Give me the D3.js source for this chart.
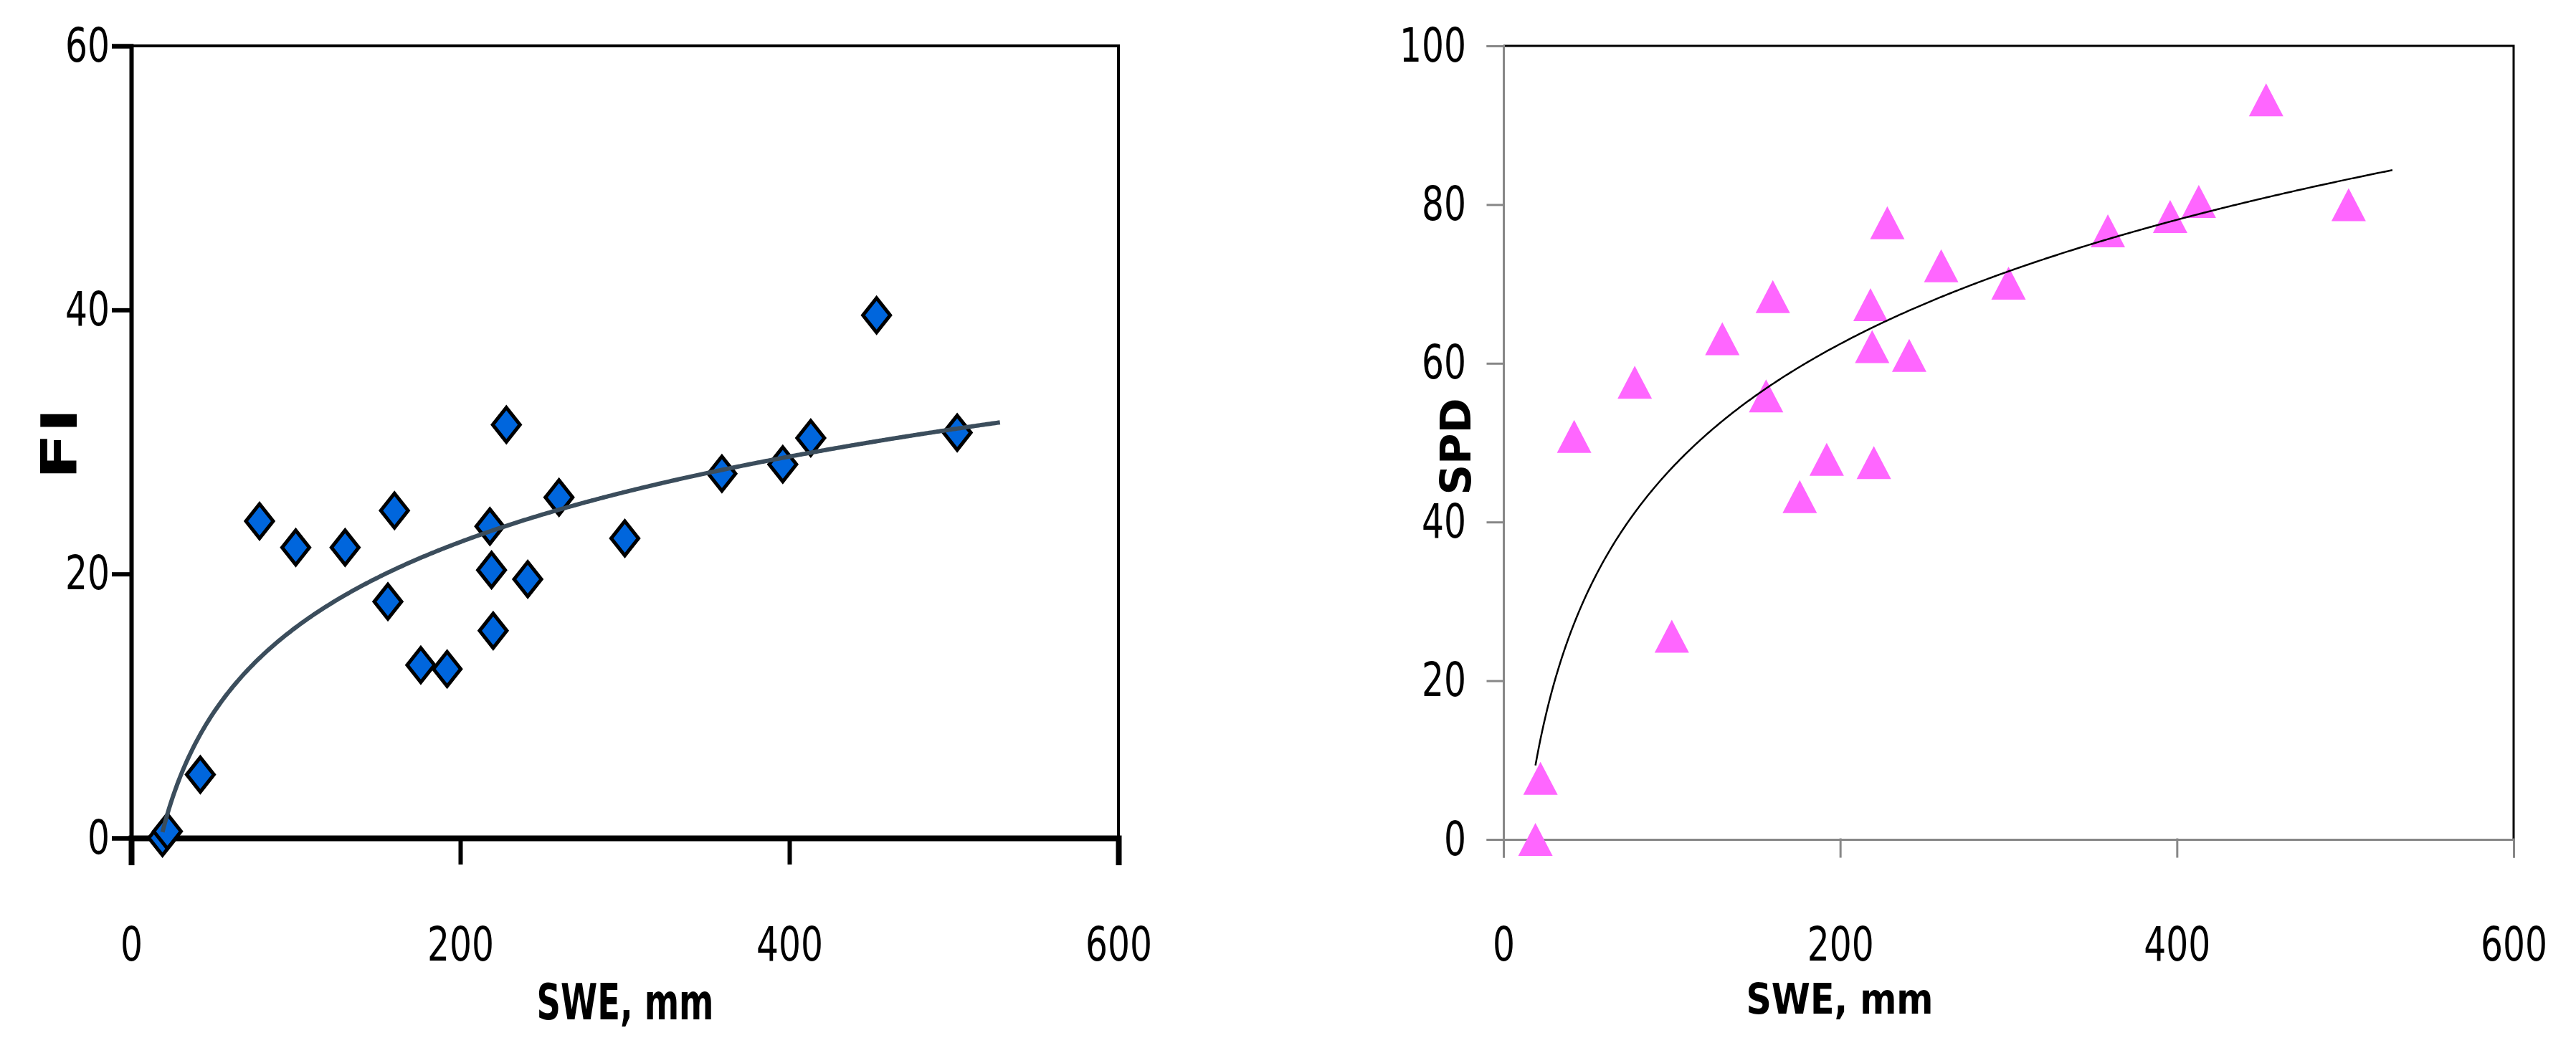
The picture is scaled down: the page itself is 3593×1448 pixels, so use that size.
<!DOCTYPE html>
<html>
<head>
<meta charset="utf-8">
<script src="https://cdn.jsdelivr.net/npm/d3@7"></script>
<style>
  body { margin: 0; background: #fff; }
  svg { display: block; }
</style>
</head>
<body>
<svg id="chart" width="3593" height="1448"></svg>
<script>
// 자료
const swe = [19, 22, 42, 78, 100, 130, 160, 156, 176, 192, 218, 228, 219, 220, 241, 260, 300, 359, 396, 413, 453, 502];
const fi  = [0, 0.5, 4.8, 24, 22, 22, 24.8, 17.9, 13.1, 12.8, 23.6, 31.3, 20.3, 15.7, 19.6, 25.8, 22.7, 27.6, 28.3, 30.3, 39.6, 30.7];
const spd = [0, 7.7, 50.8, 57.6, 25.6, 63.1, 68.4, 55.9, 43.2, 47.9, 67.4, 77.7, 62.1, 47.5, 61.0, 72.3, 70.1, 76.7, 78.5, 80.4, 93.2, 80.0];

const xTicks = [0, 200, 400, 600];
const fiTicks = [0, 20, 40, 60];
const spdTicks = [0, 20, 40, 60, 80, 100];
const trendForward = 26; // 추세선 앞으로 연장

const svg = d3.select('#chart');
const tickFont = '"DejaVu Sans Condensed", "DejaVu Sans", sans-serif';

// 로그 추세선 (최소제곱)
function logFit(xs, ys) {
    const lx = xs.map(Math.log);
    const mx = d3.mean(lx), my = d3.mean(ys);
    let sxy = 0, sxx = 0;
    lx.forEach((v, i) => { sxy += (v - mx) * (ys[i] - my); sxx += (v - mx) * (v - mx); });
    const a = sxy / sxx;
    return { a: a, b: my - a * mx };
}

function diamondPath(w, h) {
    return `M0,${-h / 2}L${w / 2},0L0,${h / 2}L${-w / 2},0Z`;
}
function trianglePath(w, h) {
    return `M0,${-h / 2}L${w / 2},${h / 2}L${-w / 2},${h / 2}Z`;
}

function styleTicks(sel, cfg) {
    sel.selectAll('.tick text')
        .attr('fill', '#000')
        .attr('textLength', d => String(d).length * cfg.digitW)
        .attr('lengthAdjust', 'spacingAndGlyphs')
        .style('font-family', tickFont)
        .style('font-size', cfg.tickFontSize + 'px');
}

function drawPanel(cfg) {
    const g = svg.append('g');
    const x = d3.scaleLinear().domain([0, 600]).range([cfg.left, cfg.right]);
    const y = d3.scaleLinear().domain([0, cfg.yMax]).range([cfg.bottom, cfg.top]);

    // 위, 오른쪽 테두리
    g.append('path')
        .attr('d', `M${cfg.left},${cfg.top}H${cfg.right}V${cfg.bottom}`)
        .attr('fill', 'none')
        .attr('stroke', '#000')
        .attr('stroke-width', cfg.frameWidth);

    // x축
    const xAxis = g.append('g')
        .attr('transform', `translate(0,${cfg.bottom})`)
        .call(d3.axisBottom(x).tickValues(xTicks).tickSizeOuter(0)
            .tickSize(cfg.xTickLen).tickPadding(cfg.xPad));
    xAxis.select('.domain').attr('stroke', cfg.axisColor).attr('stroke-width', cfg.xAxisWidth);
    xAxis.selectAll('.tick line').attr('stroke', cfg.axisColor).attr('stroke-width', cfg.tickWidth);
    styleTicks(xAxis, cfg);

    // y축
    const yAxis = g.append('g')
        .attr('transform', `translate(${cfg.left},0)`)
        .call(d3.axisLeft(y).tickValues(cfg.yTicks).tickSizeOuter(0)
            .tickSize(cfg.yTickLen).tickPadding(cfg.yPad));
    yAxis.select('.domain').attr('stroke', cfg.axisColor).attr('stroke-width', cfg.yAxisWidth);
    yAxis.selectAll('.tick line').attr('stroke', cfg.axisColor).attr('stroke-width', cfg.tickWidth);
    styleTicks(yAxis, cfg);
    g.selectAll('.domain, .tick line').attr('stroke-linecap', 'square');

    // 점
    const pts = swe.map((v, i) => ({ x: v, y: cfg.values[i] }));
    g.append('g').selectAll('path')
        .data(pts)
        .enter()
        .append('path')
        .attr('transform', d => `translate(${x(d.x)},${y(d.y)})`)
        .attr('d', cfg.marker)
        .attr('fill', cfg.markerFill)
        .attr('stroke', cfg.markerStroke)
        .attr('stroke-width', cfg.markerStrokeWidth)
        .attr('stroke-linejoin', 'miter');

    // 추세선
    const fit = logFit(swe, cfg.values);
    const x0 = d3.min(swe), x1 = d3.max(swe) + trendForward;
    const xs = d3.range(x0, x1, 1).concat([x1]);
    g.append('path')
        .datum(xs)
        .attr('fill', 'none')
        .attr('stroke', cfg.trendColor)
        .attr('stroke-width', cfg.trendWidth)
        .attr('d', d3.line().x(d => x(d)).y(d => y(fit.a * Math.log(d) + fit.b)));

    // 축 제목
    g.append('text')
        .attr('x', cfg.xTitle[0])
        .attr('y', cfg.xTitle[1])
        .attr('text-anchor', 'middle')
        .attr('textLength', cfg.xTitleLen)
        .attr('lengthAdjust', 'spacingAndGlyphs')
        .style('font-family', tickFont)
        .style('font-weight', 'bold')
        .style('font-size', cfg.titleFontSize + 'px')
        .text('SWE, mm');

    g.append('text')
        .attr('transform', `translate(${cfg.yTitle[0]},${cfg.yTitle[1]}) rotate(-90)`)
        .attr('text-anchor', 'middle')
        .attr('dy', '0.36em')
        .attr('textLength', cfg.yTitleLen)
        .attr('lengthAdjust', 'spacingAndGlyphs')
        .style('font-family', tickFont)
        .style('font-weight', 'bold')
        .style('font-size', cfg.titleFontSize + 'px')
        .text(cfg.yLabel);
}

drawPanel({
    left: 183, right: 1560, top: 64, bottom: 1169,
    yMax: 60, yTicks: fiTicks, values: fi, yLabel: 'FI',
    axisColor: '#000', xAxisWidth: 8, yAxisWidth: 6, tickWidth: 6, frameWidth: 4,
    xTickLen: 34, yTickLen: 24, xPad: 90, yPad: 6, tickFontSize: 66, digitW: 31,
    marker: diamondPath(38, 48), markerFill: '#0066DD', markerStroke: '#000', markerStrokeWidth: 5,
    trendColor: '#3B4D5C', trendWidth: 6,
    xTitle: [872, 1422], xTitleLen: 247, yTitle: [82, 619], yTitleLen: 100, titleFontSize: 70
});

drawPanel({
    left: 2097, right: 3506, top: 64, bottom: 1171,
    yMax: 100, yTicks: spdTicks, values: spd, yLabel: 'SPD',
    axisColor: '#878787', xAxisWidth: 3, yAxisWidth: 3, tickWidth: 3, frameWidth: 3,
    xTickLen: 24, yTickLen: 22, xPad: 98, yPad: 30, tickFontSize: 66, digitW: 31,
    marker: trianglePath(48, 46), markerFill: '#FF66FF', markerStroke: 'none', markerStrokeWidth: 0,
    trendColor: '#000', trendWidth: 2.5,
    xTitle: [2566, 1414], xTitleLen: 261, yTitle: [2030, 623], yTitleLen: 135, titleFontSize: 58
});
</script>
</body>
</html>
